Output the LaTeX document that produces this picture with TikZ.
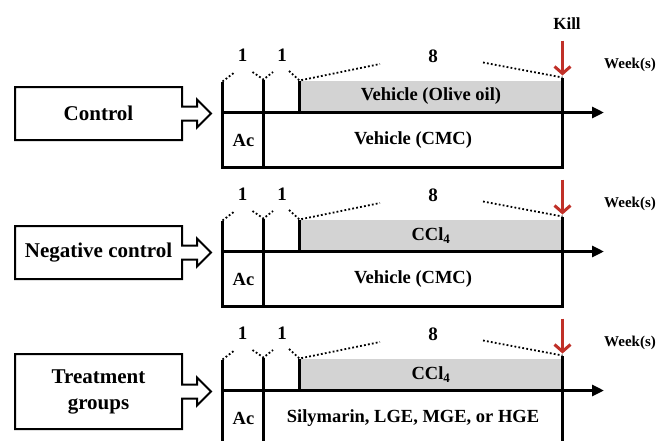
\documentclass[tikz,border=0pt]{standalone}
\usepackage{fontspec}
\setmainfont{Liberation Serif}
\usetikzlibrary{arrows.meta}
\definecolor{kred}{RGB}{192,48,40}
\definecolor{fillgray}{RGB}{211,211,211}
\tikzset{
 lbl/.style={font=\bfseries\fontsize{21}{26}\selectfont, align=center, inner sep=0pt},
 inner/.style={font=\bfseries\fontsize{18.5}{22}\selectfont, inner sep=0pt},
 num/.style={font=\bfseries\fontsize{19}{22}\selectfont, inner sep=0pt},
 wk/.style={font=\bfseries\fontsize{15}{18}\selectfont, inner sep=0pt},
 killlbl/.style={font=\bfseries\fontsize{17}{20}\selectfont, inner sep=0pt},
 thickln/.style={line width=3pt},
 dots/.style={line width=1.8pt, dash pattern=on 1.8pt off 2.2pt},
 boxarrow/.style={line width=2pt, line join=miter},
 killarrow/.style={kred, line width=3pt, -{Straight Barb[length=7pt,width=16pt]}},
 axisarrow/.style={line width=3pt, -{Triangle[length=12pt,width=11pt]}},
}
% #1 axis y, #2 box half height, #3 label, #4 gray text, #5 lower text, #6 name prefix
\newcommand\drawpanel[6]{%
 \begin{scope}[shift={(0,#1)}]
  \fill[fillgray] (299.5,-32) rectangle (562.5,0);
  \draw[boxarrow] (15,1-#2) -- (182,1-#2) -- (182,-6) -- (197,-6) -- (197,-13)
     -- (211,1) -- (197,15) -- (197,8) -- (182,8) -- (182,1+#2) -- (15,1+#2) -- cycle;
  \node[lbl] (#6lab) at (98.5,1) {#3};
  \coordinate (#6a) at (222.5,-31);
  \coordinate (#6b) at (263.5,-33);
  \coordinate (#6c) at (299.5,-32);
  \coordinate (#6d) at (562.5,-35);
  \coordinate (#6end) at (604,0);
  \draw[thickln] (#6a) -- (222.5,54.5) -- (562.5,54.5) -- (#6d);
  \draw[thickln] (#6b) -- (263.5,54.5);
  \draw[thickln] (#6c) -- (299.5,0);
  \draw[axisarrow] (222.5,0) -- (#6end);
  \draw[dots] (#6a) -- (235,-40.5);
  \draw[dots] (252.5,-40.5) -- (#6b) -- (273,-40.5);
  \draw[dots] (289,-41.5) -- (#6c) -- (380,-48.5);
  \draw[dots] (483,-50) -- (#6d);
  \node[num] (#6n1) at (242.5,-57.5) {1};
  \node[num] (#6n2) at (282,-57.5) {1};
  \node[num] (#6n8) at (433,-56.5) {8};
  \node[wk] (#6wk) at (630,-48) {Week(s)};
  \coordinate (#6ks) at (562.5,-72);
  \coordinate (#6kt) at (562.5,-37);
  \draw[killarrow] (#6ks) -- (#6kt);
  \node[inner] (#6ac) at (243.5,27.5) {Ac};
  \node[inner] (#6gray) at (431,-16) {#4};
  \node[inner] (#6low) at (413,27.5) {#5};
 \end{scope}}
\begin{document}
\begin{tikzpicture}[x=1pt,y=-1pt]
\useasboundingbox (0,0) rectangle (656,440);
\clip (0,0) rectangle (656,440);
\fill[white] (0,0) rectangle (656,440);
\drawpanel{112.5}{26.5}{Control}{Vehicle (Olive oil)}{Vehicle (CMC)}{p}
\drawpanel{251.5}{26.5}{Negative control}{CCl\textsubscript{4}}{Vehicle (CMC)}{q}
\drawpanel{390.5}{37.5}{Treatment\\groups}{CCl\textsubscript{4}}{Silymarin,\ LGE,\ MGE,\ or\ HGE}{r}
\node[killlbl] (kill) at (567,24) {Kill};
\end{tikzpicture}
\end{document}
